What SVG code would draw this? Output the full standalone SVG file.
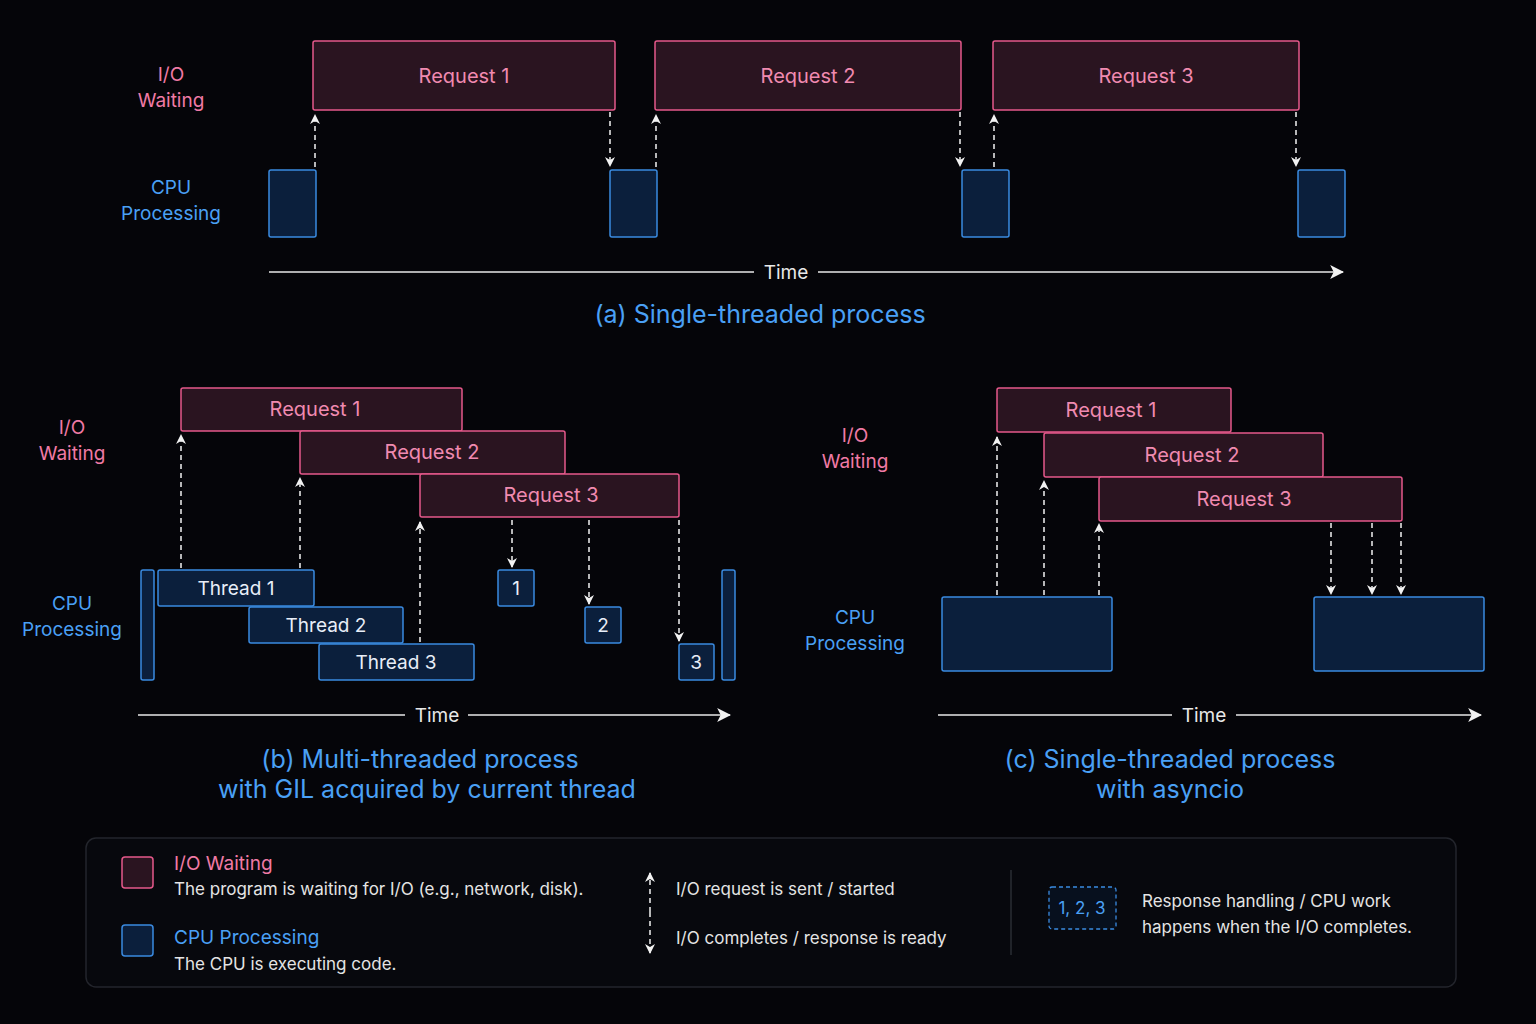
<svg xmlns="http://www.w3.org/2000/svg" width="1536" height="1024" viewBox="0 0 1536 1024">
<defs>
<marker id="ah" viewBox="0 0 10 10" refX="9" refY="5" markerWidth="10" markerHeight="10" markerUnits="userSpaceOnUse" orient="auto"><path d="M0,0 L10,5 L0,10 L3,5 z" fill="#f2f2f2"/></marker>
<marker id="ta" viewBox="0 0 12 12" refX="11" refY="6" markerWidth="14" markerHeight="14" markerUnits="userSpaceOnUse" orient="auto"><path d="M0,0 L12,6 L0,12 L3,6 z" fill="#f2f2f2"/></marker>
<style>
text{font-family:Inter,"Noto Sans","Liberation Sans",sans-serif}
.io{fill:#2a1420;stroke:#e5588a;stroke-width:1.5}
.cpu{fill:#0b1f3c;stroke:#3a8ae0;stroke-width:1.5}
.rt{fill:#f08ab0;font-size:20px;text-anchor:middle}
.tt{fill:#e8eef8;font-size:19px;text-anchor:middle}
.pl{fill:#f07aa5;font-size:19px;text-anchor:middle}
.bl{fill:#4aa0f5;font-size:19px;text-anchor:middle}
.cap{fill:#4aa0f5;font-size:25px;text-anchor:middle}
.dash{stroke:#f2f2f2;stroke-width:1.5;stroke-dasharray:5 4;fill:none}
.axis{stroke:#e8e8e8;stroke-width:1.3;fill:none}
.time{fill:#e8e8e8;font-size:19px;text-anchor:middle}
.lg{fill:#e4e4e4;font-size:17px}
</style>
</defs>
<rect width="1536" height="1024" fill="#050509"/>

<g id="a-labels">
<text class="pl" x="171" y="81">I/O</text><text class="pl" x="171" y="107">Waiting</text>
<text class="bl" x="171" y="194">CPU</text><text class="bl" x="171" y="220">Processing</text>
</g>
<g id="a-req1"><rect class="io" x="313" y="41" width="302" height="69" rx="2"/><text class="rt" x="464" y="83">Request 1</text></g>
<g id="a-req2"><rect class="io" x="655" y="41" width="306" height="69" rx="2"/><text class="rt" x="808" y="83">Request 2</text></g>
<g id="a-req3"><rect class="io" x="993" y="41" width="306" height="69" rx="2"/><text class="rt" x="1146" y="83">Request 3</text></g>
<g id="a-cpu1"><rect class="cpu" x="269" y="170" width="47" height="67" rx="2"/></g>
<g id="a-cpu2"><rect class="cpu" x="610" y="170" width="47" height="67" rx="2"/></g>
<g id="a-cpu3"><rect class="cpu" x="962" y="170" width="47" height="67" rx="2"/></g>
<g id="a-cpu4"><rect class="cpu" x="1298" y="170" width="47" height="67" rx="2"/></g>
<g id="a-time"><text class="time" x="786" y="279">Time</text><text class="cap" x="760" y="323">(a) Single-threaded process</text></g>

<g id="b-labels">
<text class="pl" x="72" y="434">I/O</text><text class="pl" x="72" y="460">Waiting</text>
<text class="bl" x="72" y="610">CPU</text><text class="bl" x="72" y="636">Processing</text>
</g>
<g id="b-req1"><rect class="io" x="181" y="388" width="281" height="43" rx="2"/><text class="rt" x="315" y="416">Request 1</text></g>
<g id="b-req2"><rect class="io" x="300" y="431" width="265" height="43" rx="2"/><text class="rt" x="432" y="459">Request 2</text></g>
<g id="b-req3"><rect class="io" x="420" y="474" width="259" height="43" rx="2"/><text class="rt" x="551" y="502">Request 3</text></g>
<g id="b-bar1"><rect class="cpu" x="141" y="570" width="13" height="110" rx="2"/></g>
<g id="b-bar2"><rect class="cpu" x="722" y="570" width="13" height="110" rx="2"/></g>
<g id="b-th1"><rect class="cpu" x="158" y="570" width="156" height="36" rx="2"/><text class="tt" x="236" y="595">Thread 1</text></g>
<g id="b-th2"><rect class="cpu" x="249" y="607" width="154" height="36" rx="2"/><text class="tt" x="326" y="632">Thread 2</text></g>
<g id="b-th3"><rect class="cpu" x="319" y="644" width="155" height="36" rx="2"/><text class="tt" x="396" y="669">Thread 3</text></g>
<g id="b-r1"><rect class="cpu" x="498" y="570" width="36" height="36" rx="2"/><text class="tt" x="516" y="595">1</text></g>
<g id="b-r2"><rect class="cpu" x="585" y="607" width="36" height="36" rx="2"/><text class="tt" x="603" y="632">2</text></g>
<g id="b-r3"><rect class="cpu" x="679" y="644" width="35" height="36" rx="2"/><text class="tt" x="696" y="669">3</text></g>
<g id="b-time"><text class="time" x="437" y="722">Time</text>
<text class="cap" x="420" y="768">(b) Multi-threaded process</text><text class="cap" x="427" y="798">with GIL acquired by current thread</text></g>

<g id="c-labels">
<text class="pl" x="855" y="442">I/O</text><text class="pl" x="855" y="468">Waiting</text>
<text class="bl" x="855" y="624">CPU</text><text class="bl" x="855" y="650">Processing</text>
</g>
<g id="c-req1"><rect class="io" x="997" y="388" width="234" height="44" rx="2"/><text class="rt" x="1111" y="417">Request 1</text></g>
<g id="c-req2"><rect class="io" x="1044" y="433" width="279" height="44" rx="2"/><text class="rt" x="1192" y="462">Request 2</text></g>
<g id="c-req3"><rect class="io" x="1099" y="477" width="303" height="44" rx="2"/><text class="rt" x="1244" y="506">Request 3</text></g>
<g id="c-cpu1"><rect class="cpu" x="942" y="597" width="170" height="74" rx="2"/></g>
<g id="c-cpu2"><rect class="cpu" x="1314" y="597" width="170" height="74" rx="2"/></g>
<g id="c-time"><text class="time" x="1204" y="722">Time</text>
<text class="cap" x="1170" y="768">(c) Single-threaded process</text><text class="cap" x="1170" y="798">with asyncio</text></g>

<g id="connectors">
<path class="axis" d="M269,272 H754 M818,272 H1343" marker-end="url(#ta)"/>
<path class="axis" d="M138,715 H405 M468,715 H730" marker-end="url(#ta)"/>
<path class="axis" d="M938,715 H1172 M1236,715 H1481" marker-end="url(#ta)"/>
<path class="dash" d="M315,167 V115" marker-end="url(#ah)"/>
<path class="dash" d="M610,112 V166" marker-end="url(#ah)"/>
<path class="dash" d="M656,167 V115" marker-end="url(#ah)"/>
<path class="dash" d="M960,112 V166" marker-end="url(#ah)"/>
<path class="dash" d="M994,167 V115" marker-end="url(#ah)"/>
<path class="dash" d="M1296,112 V166" marker-end="url(#ah)"/>
<path class="dash" d="M181,568 V435" marker-end="url(#ah)"/>
<path class="dash" d="M300,568 V478" marker-end="url(#ah)"/>
<path class="dash" d="M420,642 V522" marker-end="url(#ah)"/>
<path class="dash" d="M512,520 V567" marker-end="url(#ah)"/>
<path class="dash" d="M589,520 V604" marker-end="url(#ah)"/>
<path class="dash" d="M679,520 V641" marker-end="url(#ah)"/>
<path class="dash" d="M997,595 V437" marker-end="url(#ah)"/>
<path class="dash" d="M1044,595 V481" marker-end="url(#ah)"/>
<path class="dash" d="M1099,595 V524" marker-end="url(#ah)"/>
<path class="dash" d="M1331,523 V594" marker-end="url(#ah)"/>
<path class="dash" d="M1372,523 V594" marker-end="url(#ah)"/>
<path class="dash" d="M1401,523 V594" marker-end="url(#ah)"/>
</g>

<g id="legend">
<rect x="86" y="838" width="1370" height="149" rx="10" fill="#07080d" stroke="#23252c" stroke-width="1.5"/>
<rect class="io" x="122" y="857" width="31" height="31" rx="3"/>
<text x="174" y="870" fill="#f07aa5" font-size="19">I/O Waiting</text>
<text class="lg" x="174" y="895">The program is waiting for I/O (e.g., network, disk).</text>
<rect class="cpu" x="122" y="925" width="31" height="31" rx="3"/>
<text x="174" y="944" fill="#4aa0f5" font-size="19">CPU Processing</text>
<text class="lg" x="174" y="970">The CPU is executing code.</text>
<path class="dash" d="M650,912 V873" marker-end="url(#ah)"/>
<path class="dash" d="M650,912 V953" marker-end="url(#ah)"/>
<text class="lg" x="676" y="895">I/O request is sent / started</text>
<text class="lg" x="676" y="944">I/O completes / response is ready</text>
<line x1="1011" y1="870" x2="1011" y2="955" stroke="#2a2c33" stroke-width="1.5"/>
<rect x="1049" y="887" width="67" height="42" rx="3" fill="#07101e" stroke="#3a8ae0" stroke-width="1.3" stroke-dasharray="4 3"/>
<text x="1082" y="914" fill="#4aa0f5" font-size="17" text-anchor="middle">1, 2, 3</text>
<text class="lg" x="1142" y="907">Response handling / CPU work</text>
<text class="lg" x="1142" y="933">happens when the I/O completes.</text>
</g>
</svg>
